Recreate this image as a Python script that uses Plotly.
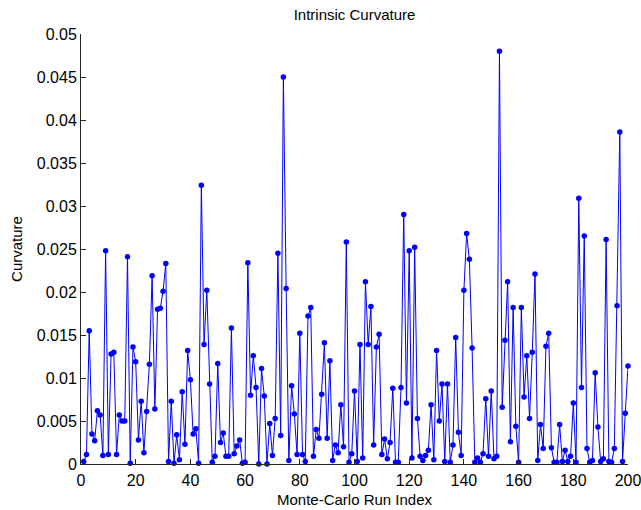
import plotly.graph_objects as go

run_index = list(range(1, 201))
curvature = [
    0.0003, 0.0011, 0.0155, 0.0035, 0.0027, 0.0062, 0.0057, 0.0010, 0.0248, 0.0011,
    0.0128, 0.0130, 0.0011, 0.0057, 0.0050, 0.0050, 0.0241, 0.0001, 0.0136, 0.0119,
    0.0028, 0.0073, 0.0013, 0.0061, 0.0116, 0.0219, 0.0064, 0.0180, 0.0181, 0.0201,
    0.0233, 0.0003, 0.0073, 0.0001, 0.0034, 0.0005, 0.0084, 0.0023, 0.0132, 0.0098,
    0.0035, 0.0041, 0.0001, 0.0324, 0.0139, 0.0202, 0.0093, 0.0002, 0.0009, 0.0117,
    0.0025, 0.0036, 0.0009, 0.0009, 0.0158, 0.0012, 0.0021, 0.0028, 0.0001, 0.0002,
    0.0234, 0.0080, 0.0126, 0.0089, 0.0000, 0.0111, 0.0079, 0.0000, 0.0047, 0.0010,
    0.0053, 0.0245, 0.0033, 0.0450, 0.0204, 0.0004, 0.0091, 0.0058, 0.0011, 0.0152,
    0.0011, 0.0003, 0.0172, 0.0182, 0.0009, 0.0040, 0.0030, 0.0081, 0.0141, 0.0030,
    0.0120, 0.0004, 0.0022, 0.0013, 0.0069, 0.0020, 0.0258, 0.0002, 0.0012, 0.0085,
    0.0003, 0.0139, 0.0007, 0.0212, 0.0139, 0.0183, 0.0022, 0.0136, 0.0151, 0.0011,
    0.0029, 0.0006, 0.0025, 0.0088, 0.0002, 0.0002, 0.0089, 0.0290, 0.0071, 0.0248,
    0.0007, 0.0252, 0.0053, 0.0009, 0.0004, 0.0010, 0.0016, 0.0069, 0.0005, 0.0132,
    0.0050, 0.0093, 0.0003, 0.0093, 0.0002, 0.0022, 0.0147, 0.0037, 0.0010, 0.0202,
    0.0268, 0.0238, 0.0135, 0.0002, 0.0007, 0.0002, 0.0012, 0.0076, 0.0009, 0.0085,
    0.0006, 0.0009, 0.0480, 0.0066, 0.0144, 0.0212, 0.0026, 0.0182, 0.0044, 0.0002,
    0.0182, 0.0078, 0.0126, 0.0053, 0.0130, 0.0221, 0.0004, 0.0046, 0.0018, 0.0137,
    0.0152, 0.0019, 0.0002, 0.0002, 0.0046, 0.0003, 0.0016, 0.0003, 0.0009, 0.0071,
    0.0002, 0.0309, 0.0089, 0.0265, 0.0018, 0.0002, 0.0004, 0.0106, 0.0043, 0.0003,
    0.0006, 0.0261, 0.0003, 0.0002, 0.0018, 0.0184, 0.0386, 0.0003, 0.0059, 0.0114,
]

x_ticks = [0, 20, 40, 60, 80, 100, 120, 140, 160, 180, 200]
y_ticks = [0, 0.005, 0.01, 0.015, 0.02, 0.025, 0.03, 0.035, 0.04, 0.045, 0.05]
y_tick_labels = ["0", "0.005", "0.01", "0.015", "0.02", "0.025", "0.03", "0.035", "0.04", "0.045", "0.05"]

FONT = "Liberation Sans, Arial, Helvetica, sans-serif"

fig = go.Figure()
fig.add_trace(go.Scatter(
    x=run_index, y=curvature, mode="lines+markers",
    line=dict(color="#0000ff", width=1),
    marker=dict(color="#0000ff", size=5.5, symbol="circle"),
    cliponaxis=False, showlegend=False,
))

axis_common = dict(
    showgrid=False, zeroline=False, showline=True, linecolor="#262626", linewidth=1,
    ticks="inside", ticklen=5, tickcolor="#262626", tickwidth=1,
    ticklabeloverflow="allow", automargin=False,
    tickfont=dict(family=FONT, size=16, color="#000000"),
)

fig.update_layout(
    width=641, height=510,
    margin=dict(l=81, r=13, t=34, b=46),
    paper_bgcolor="white", plot_bgcolor="white",
    title=dict(text="Intrinsic Curvature", x=0.5, xref="paper", xanchor="center",
               y=1 - 15 / 510, yref="container", yanchor="middle",
               font=dict(family=FONT, size=15, color="#000000")),
    xaxis=dict(range=[0, 200], tickmode="array", tickvals=x_ticks,
               ticklabelstandoff=2,
               title=dict(text="Monte-Carlo Run Index", standoff=6,
                          font=dict(family=FONT, size=15, color="#000000")),
               **axis_common),
    yaxis=dict(range=[0, 0.05], tickmode="array", tickvals=y_ticks, ticktext=y_tick_labels,
               title=dict(text="Curvature", standoff=10,
                          font=dict(family=FONT, size=15, color="#000000")),
               **axis_common),
)

fig.write_html("out.html")
